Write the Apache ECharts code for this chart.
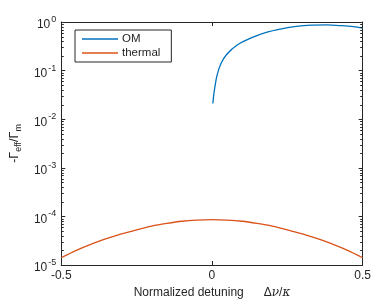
<!DOCTYPE html>
<html><head><meta charset="utf-8">
<script src="https://cdn.jsdelivr.net/npm/echarts@6/dist/echarts.min.js"></script>
<style>html,body{margin:0;padding:0;background:#fff}#c{width:374px;height:306px}</style>
</head><body><div id="c"></div>
<script>
const omX = [0.003, 0.006, 0.01, 0.017, 0.03, 0.05, 0.085, 0.13, 0.18, 0.23, 0.28, 0.33, 0.38, 0.43, 0.47, 0.5];
const omY = [0.021, 0.032, 0.047, 0.081, 0.14, 0.22, 0.34, 0.47, 0.61, 0.72, 0.81, 0.86, 0.87, 0.84, 0.80, 0.75];
const thX = [-0.5, -0.45, -0.4, -0.35, -0.3, -0.25, -0.2, -0.15, -0.1, -0.05, 0, 0.05, 0.1, 0.15, 0.2, 0.25, 0.3, 0.35, 0.4, 0.45, 0.5];
const thY = [1.41e-5, 2.0e-5, 2.69e-5, 3.47e-5, 4.37e-5, 5.31e-5, 6.31e-5, 7.16e-5, 7.94e-5, 8.41e-5, 8.59e-5, 8.41e-5, 7.94e-5, 7.16e-5, 6.31e-5, 5.31e-5, 4.37e-5, 3.47e-5, 2.69e-5, 2.0e-5, 1.41e-5];
const xTicks = [-0.5, 0, 0.5];
const yDecades = [-5, -4, -3, -2, -1, 0];
const seriesNames = ['OM', 'thermal'];

const minorVals = [];
yDecades.slice(0, -1).forEach(d => { for (let m = 2; m <= 9; m++) minorVals.push([xTicks[0], m * Math.pow(10, d)]); });

const font = 'Liberation Sans, Arial, Helvetica, sans-serif';
const axisColor = '#262626';
const chart = echarts.init(document.getElementById('c'), null, {renderer: 'canvas'});
const zip = (a, b) => a.map((v, i) => [v, b[i]]);
const commonX = {
  type: 'value', min: xTicks[0], max: xTicks[xTicks.length - 1], interval: 0.5,
  axisLine: {show: true, onZero: false, lineStyle: {color: axisColor, width: 1}},
  axisTick: {show: true, inside: true, length: 4, lineStyle: {color: axisColor}},
  splitLine: {show: false}
};
const commonY = {
  type: 'log', logBase: 10, min: Math.pow(10, yDecades[0]), max: Math.pow(10, yDecades[yDecades.length - 1]),
  axisLine: {show: true, onZero: false, lineStyle: {color: axisColor, width: 1}},
  axisTick: {show: true, inside: true, length: 4, lineStyle: {color: axisColor}},
  minorTick: {show: false},
  splitLine: {show: false}
};
chart.setOption({
  animation: false,
  textStyle: {fontFamily: font},
  grid: {left: 59, right: 8, top: 22, bottom: 41},
  legend: {
    orient: 'vertical', left: 75, top: 30,
    data: seriesNames,
    icon: 'rect', itemWidth: 36, itemHeight: 1.5, itemGap: 2,
    borderColor: axisColor, borderWidth: 1, padding: [3, 11, 3, 7],
    textStyle: {fontFamily: font, fontSize: 11.5, color: '#262626', padding: [0, 0, 0, -1]}
  },
  xAxis: [
    Object.assign({}, commonX, {
      position: 'bottom',
      axisLabel: {show: true, color: '#262626', fontSize: 12, fontFamily: font, margin: 5,
        formatter: v => String(v)},
      name: '{n|Normalized detuning}{g|      Δ}{i|ν}{g|/}{i|κ}',
      nameLocation: 'middle', nameGap: 21,
      nameTextStyle: {rich: {
        n: {fontSize: 12, color: '#262626', fontFamily: font},
        g: {fontSize: 12, color: '#262626', fontFamily: font},
        i: {fontSize: 12, color: '#262626', fontFamily: 'DejaVu Serif, serif', fontStyle: 'italic'}
      }}
    }),
    Object.assign({}, commonX, {position: 'top', axisLabel: {show: false}})
  ],
  yAxis: [
    Object.assign({}, commonY, {
      position: 'left',
      axisLabel: {show: true, margin: 5, fontFamily: font,
        formatter: v => '{b|10}{s|' + Math.round(Math.log10(v)) + '}',
        rich: {
          b: {fontSize: 12, color: '#262626', fontFamily: font, padding: [6, 0, 0, 0]},
          s: {fontSize: 9, color: '#262626', fontFamily: font, padding: [0, 0, 5, 1]}
        }},
      name: '{a|-Γ}{sb|eff}{a|/Γ}{sb|m}',
      nameLocation: 'middle', nameGap: 33, nameRotate: 90,
      nameTextStyle: {rich: {
        a: {fontSize: 12.5, color: '#262626', fontFamily: font},
        sb: {fontSize: 9, color: '#262626', fontFamily: font, padding: [8, 0, 0, 0]}
      }}
    }),
    Object.assign({}, commonY, {position: 'right', axisLabel: {show: false}})
  ],
  series: [
    {name: seriesNames[0], type: 'line', data: zip(omX, omY), smooth: 0.3, showSymbol: false,
      xAxisIndex: 0, yAxisIndex: 0, color: '#0072BD', lineStyle: {width: 1.3}, z: 3},
    {name: seriesNames[1], type: 'line', data: zip(thX, thY), smooth: 0.3, showSymbol: false,
      xAxisIndex: 0, yAxisIndex: 0, color: '#D95319', lineStyle: {width: 1.3}, z: 3},
    {name: 'minorTicks', type: 'custom', data: minorVals, silent: true, clip: false,
      xAxisIndex: 0, yAxisIndex: 0, encode: {x: 0, y: 1}, z: 5,
      renderItem: (params, api) => {
        const v = api.value(1);
        const l = api.coord([xTicks[0], v]);
        const r = api.coord([xTicks[xTicks.length - 1], v]);
        const y = Math.round(l[1]) + 0.5;
        const st = {stroke: axisColor, lineWidth: 1};
        return {type: 'group', children: [
          {type: 'line', shape: {x1: l[0], y1: y, x2: l[0] + 2.5, y2: y}, style: st},
          {type: 'line', shape: {x1: r[0], y1: y, x2: r[0] - 2.5, y2: y}, style: st}
        ]};
      }}
  ]
});
</script></body></html>
